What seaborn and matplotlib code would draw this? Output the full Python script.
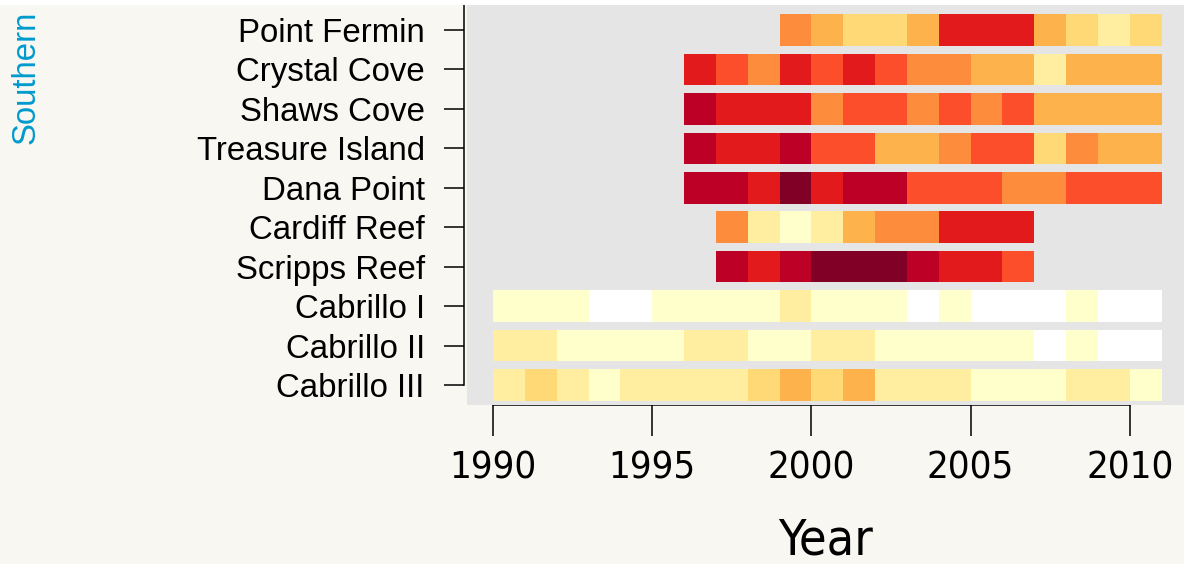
import numpy as np
import pandas as pd
import seaborn as sns
import matplotlib.pyplot as plt
from matplotlib.colors import ListedColormap
from matplotlib.patches import Rectangle
from matplotlib import font_manager

years = list(range(1990, 2011))
sites = ["Point Fermin", "Crystal Cove", "Shaws Cove", "Treasure Island", "Dana Point",
         "Cardiff Reef", "Scripps Reef", "Cabrillo I", "Cabrillo II", "Cabrillo III"]

# colour class per year (0 = white ... 9 = darkest red), None = not surveyed
N = None
point_fermin    = [N, N, N, N, N, N, N, N, N, 5, 4, 3, 3, 4, 7, 7, 7, 4, 3, 2, 3]
crystal_cove    = [N, N, N, N, N, N, 7, 6, 5, 7, 6, 7, 6, 5, 5, 4, 4, 2, 4, 4, 4]
shaws_cove      = [N, N, N, N, N, N, 8, 7, 7, 7, 5, 6, 6, 5, 6, 5, 6, 4, 4, 4, 4]
treasure_island = [N, N, N, N, N, N, 8, 7, 7, 8, 6, 6, 4, 4, 5, 6, 6, 3, 5, 4, 4]
dana_point      = [N, N, N, N, N, N, 8, 8, 7, 9, 7, 8, 8, 6, 6, 6, 5, 5, 6, 6, 6]
cardiff_reef    = [N, N, N, N, N, N, N, 5, 2, 1, 2, 4, 5, 5, 7, 7, 7, N, N, N, N]
scripps_reef    = [N, N, N, N, N, N, N, 8, 7, 8, 9, 9, 9, 8, 7, 7, 6, N, N, N, N]
cabrillo_1      = [1, 1, 1, 0, 0, 1, 1, 1, 1, 2, 1, 1, 1, 0, 1, 0, 0, 0, 1, 0, 0]
cabrillo_2      = [2, 2, 1, 1, 1, 1, 2, 2, 1, 1, 2, 2, 1, 1, 1, 1, 1, 0, 1, 0, 0]
cabrillo_3      = [2, 3, 2, 1, 2, 2, 2, 2, 3, 4, 3, 4, 2, 2, 2, 1, 1, 1, 2, 2, 1]

rows = [point_fermin, crystal_cove, shaws_cove, treasure_island, dana_point,
        cardiff_reef, scripps_reef, cabrillo_1, cabrillo_2, cabrillo_3]
df = pd.DataFrame([[np.nan if v is None else v for v in r] for r in rows],
                  index=sites, columns=years, dtype=float)

colours = ["#FFFFFF", "#FFFFCC", "#FFEDA0", "#FED976", "#FEB24C",
           "#FD8D3C", "#FC4E2A", "#E31A1C", "#BD0026", "#800026"]
panel = "#E5E5E5"

# narrow face for the year axis, if one is installed
narrow = font_manager.FontProperties(family="DejaVu Sans", stretch="condensed")
narrow_file = font_manager.findfont(narrow)
if "ondensed" not in narrow_file and "arrow" not in narrow_file:
    narrow = font_manager.FontProperties(family="Liberation Sans Narrow")
    if "arrow" not in font_manager.findfont(narrow):
        narrow = font_manager.FontProperties(family="Liberation Sans")

plt.rcParams["font.family"] = ["Liberation Sans", "DejaVu Sans"]

fig = plt.figure(figsize=(11.84, 5.64), dpi=100, facecolor="#F8F7F2")
ax = fig.add_axes([467 / 1184, 159 / 564, 717 / 1184, 400 / 564])
ax.set_facecolor(panel)

sns.heatmap(df, ax=ax, cmap=ListedColormap(colours), vmin=-0.5, vmax=9.5,
            cbar=False, xticklabels=False, yticklabels=sites)

# gaps between the rows
for k in range(len(sites) + 1):
    ax.axhspan(k - 0.1, k + 0.1, color=panel, lw=0, zorder=3)

ax.set_xlim(-0.816, 21.70)
ax.set_ylim(10.007, -0.134)

ax.set_xticks([y - years[0] for y in years[::5]])
ax.set_xticklabels([str(y) for y in years[::5]])
for t in ax.get_xticklabels():
    t.set_fontproperties(narrow)
    t.set_fontsize(27.5)
ax.tick_params(axis="x", length=22.5, width=1.1, pad=10, labelrotation=0)
ax.tick_params(axis="y", length=14.4, width=1.1, pad=14, labelsize=23.8, labelrotation=0)

for s in ["top", "right"]:
    ax.spines[s].set_visible(False)
for s in ["left", "bottom"]:
    ax.spines[s].set_visible(True)
    ax.spines[s].set_color("black")
    ax.spines[s].set_linewidth(1.1)
ax.spines["left"].set_position(("outward", 2))
ax.spines["left"].set_bounds(-0.134, len(sites) - 0.5)
ax.spines["bottom"].set_bounds(0, 20)

ax.set_ylabel("")
xl = ax.set_xlabel("Year", labelpad=22)
xl.set_fontproperties(narrow)
xl.set_fontsize(36)

fig.text(26 / 1184, 1 - 77 / 564, "Southern", rotation=90, color="#009ACD",
         fontsize=23.8, ha="center", va="center")
fig.add_artist(Rectangle((0, 1 - 5 / 564), 1, 5 / 564, transform=fig.transFigure,
                         color="white", lw=0))

fig.savefig("out.png", dpi=100, facecolor=fig.get_facecolor())
